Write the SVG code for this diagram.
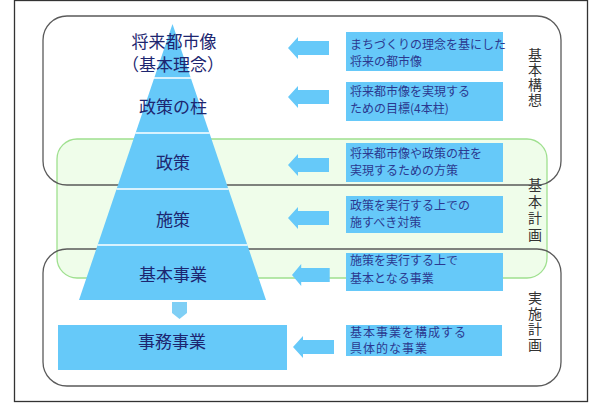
<svg xmlns="http://www.w3.org/2000/svg" width="600" height="412" viewBox="0 0 600 412">
<style>
.frame{fill:#fff;stroke:#333;stroke-width:1.3}
.grp{fill:none;stroke:#5a5a5a;stroke-width:1.3}
.green{fill:#effdea;stroke:#9fe08f;stroke-width:1.3}
.blue{fill:#66c9f9}
.sep{stroke:#fff;stroke-width:1.3}
.tri{font-family:"Noto Sans CJK JP","Noto Sans",sans-serif;font-size:17px;fill:#1d2670;text-anchor:middle}
.box{font-family:"Noto Sans CJK JP","Noto Sans",sans-serif;font-size:12px;fill:#2b3990}
.vl{font-family:"Noto Sans CJK JP","Noto Sans",sans-serif;font-size:14px;fill:#333;text-anchor:middle;writing-mode:vertical-rl}
</style>
<defs>
<path id="la" d="M0,0 L10,-11 L10,-7 L41,-7 L41,7 L10,7 L10,11 Z" fill="#66c9f9"/>
</defs>
<rect class="frame" x="14.5" y="0.5" width="573" height="401"/>
<g id="kihon-keikaku">
<rect class="green" x="57" y="139" width="490" height="139" rx="20"/>
<text class="vl" x="535" y="211" letter-spacing="2.5">基本計画</text>
</g>
<g id="kihon-kousou">
<rect class="grp" x="43" y="16" width="518" height="169" rx="24"/>
<text class="vl" x="535" y="78" letter-spacing="1">基本構想</text>
</g>
<g id="jisshi-keikaku">
<rect class="grp" x="43" y="249" width="518" height="137" rx="24"/>
<text class="vl" x="535" y="322" letter-spacing="1.5">実施計画</text>
</g>
<g id="pyramid">
<polygon class="blue" points="172.5,24 266,300 79,300"/>
<line class="sep" x1="153.8" y1="78" x2="191.2" y2="78"/>
<line class="sep" x1="135.3" y1="133" x2="209.7" y2="133"/>
<line class="sep" x1="116.4" y1="189" x2="228.6" y2="189"/>
<line class="sep" x1="97.5" y1="245" x2="247.5" y2="245"/>
</g>
<g id="level1"><text class="tri" x="174" y="48">将来都市像</text><text class="tri" x="173" y="71" font-size="16">（基本理念）</text></g>
<g id="level2"><text class="tri" x="173" y="113">政策の柱</text></g>
<g id="level3"><text class="tri" x="173" y="169">政策</text></g>
<g id="level4"><text class="tri" x="173" y="226">施策</text></g>
<g id="level5"><text class="tri" x="173" y="281">基本事業</text></g>
<g id="jimu-jigyou">
<rect class="blue" x="58" y="325" width="229" height="45"/>
<text class="tri" x="172" y="348" font-size="15">事務事業</text>
</g>
<g id="connectors">
<polygon points="172,302 187,302 187,313 179.5,319 172,313" fill="#7fcff5"/>
<use href="#la" transform="translate(288,48)"/>
<use href="#la" transform="translate(288,97)"/>
<use href="#la" transform="translate(288,165)"/>
<use href="#la" transform="translate(288,218)"/>
<use href="#la" transform="translate(292,275) scale(0.92,1)"/>
<use href="#la" transform="translate(293,347)"/>
</g>
<g id="desc1"><rect class="blue" x="346" y="32" width="157" height="39"/><text class="box"><tspan x="350" y="49">まちづくりの理念を基にした</tspan><tspan x="350" y="66">将来の都市像</tspan></text></g>
<g id="desc2"><rect class="blue" x="346" y="82" width="157" height="39"/><text class="box"><tspan x="350" y="96">将来都市像を実現する</tspan><tspan x="350" y="113">ための目標(4本柱)</tspan></text></g>
<g id="desc3"><rect class="blue" x="346" y="143" width="157" height="39"/><text class="box"><tspan x="350" y="158">将来都市像や政策の柱を</tspan><tspan x="350" y="175">実現するための方策</tspan></text></g>
<g id="desc4"><rect class="blue" x="346" y="196" width="157" height="37"/><text class="box"><tspan x="350" y="210">政策を実行する上での</tspan><tspan x="350" y="227">施すべき対策</tspan></text></g>
<g id="desc5"><rect class="blue" x="346" y="253" width="157" height="38"/><text class="box"><tspan x="350" y="265">施策を実行する上で</tspan><tspan x="350" y="283">基本となる事業</tspan></text></g>
<g id="desc6"><rect class="blue" x="346" y="325" width="156" height="31"/><text class="box" font-size="10.5" letter-spacing="1"><tspan x="350" y="336.5">基本事業を構成する</tspan><tspan x="350" y="352.5">具体的な事業</tspan></text></g>
</svg>
